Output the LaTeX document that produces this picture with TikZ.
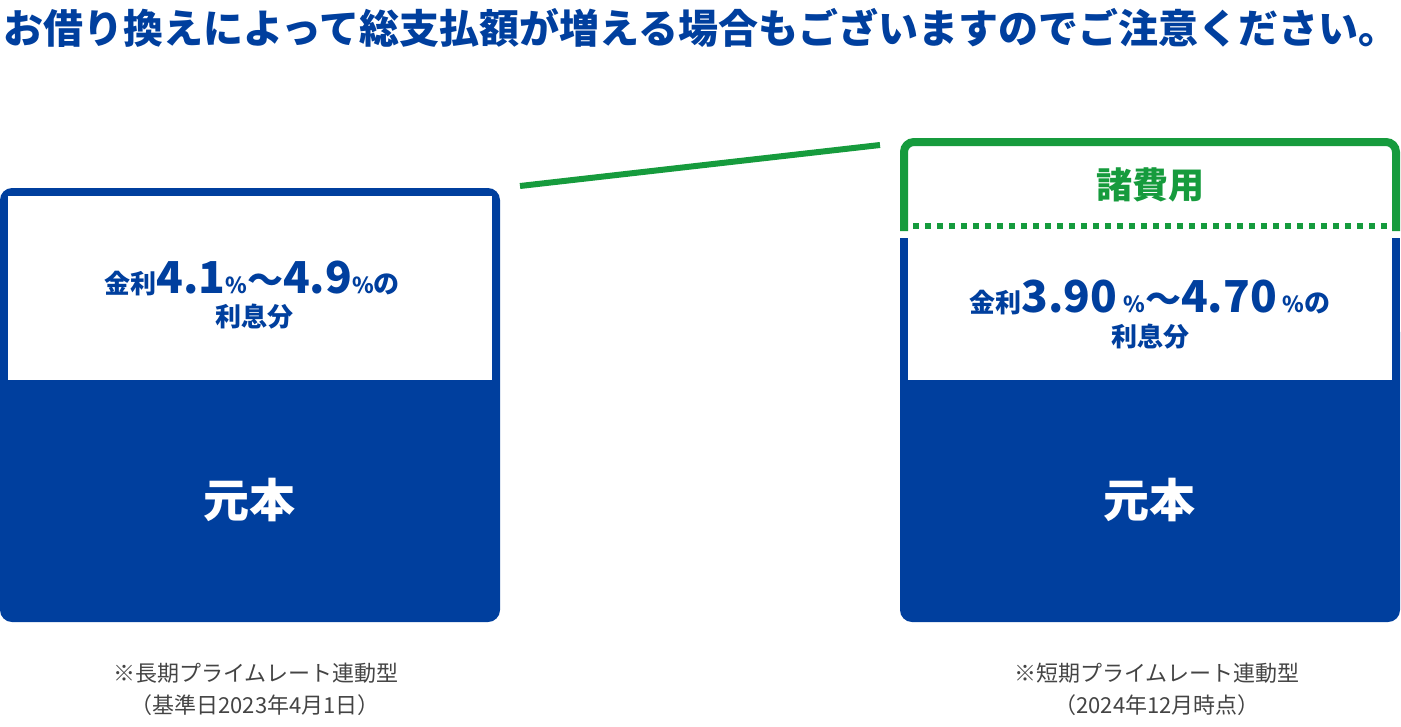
\documentclass[tikz,border=0pt]{standalone}
\usepackage{fontspec}
\setmainfont{Noto Sans CJK JP}
\usetikzlibrary{positioning}
\definecolor{loanblue}{HTML}{003F9E}
\definecolor{feegreen}{HTML}{169B3D}
\definecolor{notegray}{HTML}{444444}
\newcommand\ratenum[1]{{\fontsize{44}{44}\selectfont #1}}
\newcommand\ratepct[1]{{\fontsize{22}{22}\selectfont #1}}
\newcommand\ratewave{{\fontsize{36}{36}\selectfont 〜}}
\tikzset{
  headline/.style={font=\bfseries\fontsize{40}{42}\selectfont,text=loanblue,anchor=west,inner sep=0},
  ratetxt/.style={font=\bfseries\fontsize{26}{26}\selectfont,text=loanblue,inner sep=0},
  principal/.style={font=\bfseries\fontsize{46}{46}\selectfont,text=white,inner sep=0},
  feetxt/.style={font=\bfseries\fontsize{36}{36}\selectfont,text=feegreen,inner sep=0},
  notetxt/.style={font=\fontsize{22}{22}\selectfont,text=notegray,inner sep=0},
}
\begin{document}
\begin{tikzpicture}[x=1pt,y=-1pt]
\useasboundingbox (0,0) rectangle (1401,726);
\node[headline] (title) at (3,28) {お借り換えによって総支払額が増える場合もございますのでご注意ください。};
% left: long-term prime rate
\fill[loanblue,rounded corners=12] (0,188) rectangle (500,622);
\fill[white] (8,196) rectangle (492,380);
\node[ratetxt] (lrate) at (252,278) {金利\ratenum{4.1}\ratepct{\%}\ratewave\ratenum{4.9}\ratepct{\%}の};
\node[ratetxt] (lint) at (254,317) {利息分};
\node[principal] (lmain) at (249,500) {元本};
\node[notetxt] (lnote) at (256,673) {※長期プライムレート連動型};
\node[notetxt] (ldate) at (255,705) {（基準日2023年4月1日）};
% right: short-term prime rate
\draw[feegreen,line width=8,rounded corners=10] (904,231) -- (904,142) -- (1396,142) -- (1396,231);
\draw[feegreen,line width=6,dash pattern=on 6pt off 6pt] (913,226) -- (1392,226);
\node[feetxt] (fee) at (1150,185) {諸費用};
\fill[loanblue,rounded corners=12] (900,320) rectangle (1400,622);
\fill[loanblue] (900,238) rectangle (1400,340);
\fill[white] (908,238) rectangle (1392,380);
\node[ratetxt] (rrate) at (1150,297) {金利\ratenum{3.90} \ratepct{\%}\ratewave\ratenum{4.70} \ratepct{\%}の};
\node[ratetxt] (rint) at (1150,337) {利息分};
\node[principal] (rmain) at (1149,500) {元本};
\node[notetxt] (rnote) at (1157,673) {※短期プライムレート連動型};
\node[notetxt] (rdate) at (1157,705) {（2024年12月時点）};
% rise in total payment
\coordinate (riseL) at (520,186);
\coordinate (riseR) at (880,145);
\draw[feegreen,line width=6] (riseL) -- (riseR);
\end{tikzpicture}
\end{document}
